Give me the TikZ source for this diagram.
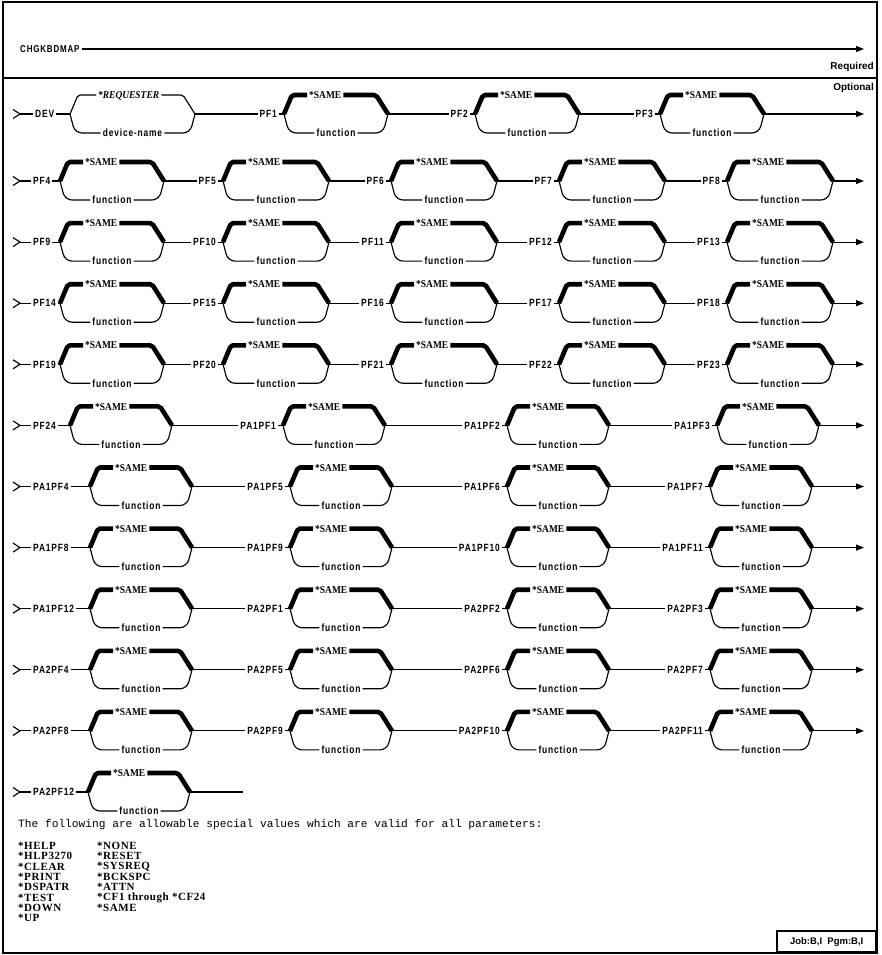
\documentclass[tikz,border=0pt]{standalone}
\usepackage{fontspec}
\setmainfont{Liberation Serif}
\newfontfamily\labfont[LetterSpace=8, FakeStretch=0.8]{Liberation Sans}
\newfontfamily\dftfont[FakeStretch=0.9]{Liberation Serif}
\newfontfamily\headfont{Liberation Sans}
\newfontfamily\monofnt{Liberation Mono}
\newfontfamily\listfont[LetterSpace=5]{Liberation Serif}
\usetikzlibrary{arrows.meta}
\tikzset{
  ln/.style={line width=1.15pt},
  heavy/.style={line width=4.6pt, line join=round},
  arr/.style={ln, -{Triangle[length=8pt,width=6pt]}},
  framestyle/.style={line width=1.6pt},
  lab/.style={font=\labfont\bfseries\fontsize{10.5}{12}\selectfont, inner sep=2pt, text height=7.5pt, text depth=0pt},
  dft/.style={font=\dftfont\bfseries\fontsize{10.5}{12}\selectfont, inner sep=2pt, text height=7.2pt, text depth=0pt},
  txt/.style={font=\listfont\bfseries\fontsize{11}{11}\selectfont, inner sep=0pt, anchor=west},
  pics/br/.style n args={5}{code={
    \coordinate (-in) at (0,0);
    \coordinate (-out) at (#1,0);
    \coordinate (-tl) at (8,-19);
    \coordinate (-tr) at ({#1-12},-19);
    \coordinate (-bl) at (5,19);
    \coordinate (-br) at ({#1-5},19);
    \node[dft, anchor=west] (-top) at (#5,-19) {#2};
    \node[lab] (-bot) at ({#1/2},19) {#3};
    \draw[#4, rounded corners=2pt] (-in) -- (-tl) -- (-top.west);
    \draw[#4, rounded corners=2pt] (-top.east) -- (-tr) -- (-out);
    \draw[ln, rounded corners=7pt] (-in) -- (-bl) -- (-bot.west);
    \draw[ln, rounded corners=7pt] (-bot.east) -- (-br) -- (-out);
  }},
}
\newcommand\rowmark[2]{\coordinate (#1) at (20,#2); \draw[ln] ([shift={(-7,-4.5)}]#1) -- (#1) -- ([shift={(-7,4.5)}]#1);}
\newcommand\samebr[4]{\pic (#1) at (#2,#3) {br={#4}{*SAME}{function}{heavy}{23}};}
\newcommand\lbl[4]{\node[lab,anchor=east] (#1) at (#2,#3) {#4};}
\newcommand\lblw[4]{\node[lab,anchor=west] (#1) at (#2,#3) {#4};}
\newcommand\lk[2]{\draw[ln] (#1) -- (#2);}
\begin{document}
\begin{tikzpicture}[x=1pt,y=-1pt]
\useasboundingbox (0,0) rectangle (881,955);
\fill[white] (0,0) rectangle (881,955);
% frame
\draw[framestyle] (3,2) rectangle (877,953);
\draw[framestyle] (3,78) -- (877,78);
% command line
\node[font=\labfont\bfseries\fontsize{10}{12}\selectfont, inner sep=2pt, anchor=west] (cmd) at (18,49) {CHGKBDMAP};
\coordinate (cmdend) at (864,49);
\draw[arr] (cmd) -- (cmdend);
\node[font=\headfont\bfseries\fontsize{10}{12}\selectfont, anchor=east, inner sep=0pt] (req) at (874,67) {Required};
\node[font=\headfont\bfseries\fontsize{10}{12}\selectfont, anchor=east, inner sep=0pt] (opt) at (874,88) {Optional};
% row 1
\rowmark{m1}{114}
\lblw{DEV}{33}{114}{DEV}
\pic (bdev) at (70,114) {br={125}{\itshape *REQUESTER}{device-name}{ln}{26}};
\lbl{PF1}{279}{114}{PF1}
\samebr{b1}{284}{114}{104}
\lbl{PF2}{470}{114}{PF2}
\samebr{b2}{475}{114}{104}
\lbl{PF3}{655}{114}{PF3}
\samebr{b3}{660}{114}{104}
\coordinate (e1) at (864,114);
\lk{m1}{DEV}\lk{DEV}{bdev-in}\lk{bdev-out}{PF1}\lk{PF1}{b1-in}\lk{b1-out}{PF2}\lk{PF2}{b2-in}\lk{b2-out}{PF3}\lk{PF3}{b3-in}
\draw[arr] (b3-out) -- (e1);
% row 2
\rowmark{m2}{181}
\lblw{PF4}{31}{181}{PF4}
\samebr{b4}{60}{181}{104}
\lbl{PF5}{218}{181}{PF5}
\samebr{b5}{223}{181}{106}
\lbl{PF6}{386}{181}{PF6}
\samebr{b6}{391}{181}{106}
\lbl{PF7}{554}{181}{PF7}
\samebr{b7}{559}{181}{106}
\lbl{PF8}{722}{181}{PF8}
\samebr{b8}{727}{181}{106}
\coordinate (e2) at (864,181);
\lk{m2}{PF4}\lk{PF4}{b4-in}\lk{b4-out}{PF5}\lk{PF5}{b5-in}\lk{b5-out}{PF6}\lk{PF6}{b6-in}\lk{b6-out}{PF7}\lk{PF7}{b7-in}\lk{b7-out}{PF8}\lk{PF8}{b8-in}
\draw[arr] (b8-out) -- (e2);
% row 3
\rowmark{m3}{242.1}
\lblw{PF9}{31}{242.1}{PF9}
\samebr{b9}{60}{242.1}{104}
\lbl{PF10}{218}{242.1}{PF10}
\samebr{b10}{223}{242.1}{106}
\lbl{PF11}{386}{242.1}{PF11}
\samebr{b11}{391}{242.1}{106}
\lbl{PF12}{554}{242.1}{PF12}
\samebr{b12}{559}{242.1}{106}
\lbl{PF13}{722}{242.1}{PF13}
\samebr{b13}{727}{242.1}{106}
\coordinate (e3) at (864,242.1);
\lk{m3}{PF9}\lk{PF9}{b9-in}\lk{b9-out}{PF10}\lk{PF10}{b10-in}\lk{b10-out}{PF11}\lk{PF11}{b11-in}\lk{b11-out}{PF12}\lk{PF12}{b12-in}\lk{b12-out}{PF13}\lk{PF13}{b13-in}
\draw[arr] (b13-out) -- (e3);
% row 4
\rowmark{m4}{303.2}
\lblw{PF14}{31}{303.2}{PF14}
\samebr{b14}{60}{303.2}{104}
\lbl{PF15}{218}{303.2}{PF15}
\samebr{b15}{223}{303.2}{106}
\lbl{PF16}{386}{303.2}{PF16}
\samebr{b16}{391}{303.2}{106}
\lbl{PF17}{554}{303.2}{PF17}
\samebr{b17}{559}{303.2}{106}
\lbl{PF18}{722}{303.2}{PF18}
\samebr{b18}{727}{303.2}{106}
\coordinate (e4) at (864,303.2);
\lk{m4}{PF14}\lk{PF14}{b14-in}\lk{b14-out}{PF15}\lk{PF15}{b15-in}\lk{b15-out}{PF16}\lk{PF16}{b16-in}\lk{b16-out}{PF17}\lk{PF17}{b17-in}\lk{b17-out}{PF18}\lk{PF18}{b18-in}
\draw[arr] (b18-out) -- (e4);
% row 5
\rowmark{m5}{364.3}
\lblw{PF19}{31}{364.3}{PF19}
\samebr{b19}{60}{364.3}{104}
\lbl{PF20}{218}{364.3}{PF20}
\samebr{b20}{223}{364.3}{106}
\lbl{PF21}{386}{364.3}{PF21}
\samebr{b21}{391}{364.3}{106}
\lbl{PF22}{554}{364.3}{PF22}
\samebr{b22}{559}{364.3}{106}
\lbl{PF23}{722}{364.3}{PF23}
\samebr{b23}{727}{364.3}{106}
\coordinate (e5) at (864,364.3);
\lk{m5}{PF19}\lk{PF19}{b19-in}\lk{b19-out}{PF20}\lk{PF20}{b20-in}\lk{b20-out}{PF21}\lk{PF21}{b21-in}\lk{b21-out}{PF22}\lk{PF22}{b22-in}\lk{b22-out}{PF23}\lk{PF23}{b23-in}
\draw[arr] (b23-out) -- (e5);
% row 6
\rowmark{m6}{425.4}
\lblw{PF24}{31}{425.4}{PF24}
\samebr{b24}{70}{425.4}{102}
\lbl{PA1PF1}{278}{425.4}{PA1PF1}
\samebr{ba1}{283}{425.4}{102}
\lbl{PA1PF2}{502}{425.4}{PA1PF2}
\samebr{ba2}{507}{425.4}{102}
\lbl{PA1PF3}{712}{425.4}{PA1PF3}
\samebr{ba3}{717}{425.4}{102}
\coordinate (e6) at (864,425.4);
\lk{m6}{PF24}\lk{PF24}{b24-in}\lk{b24-out}{PA1PF1}\lk{PA1PF1}{ba1-in}\lk{ba1-out}{PA1PF2}\lk{PA1PF2}{ba2-in}\lk{ba2-out}{PA1PF3}\lk{PA1PF3}{ba3-in}
\draw[arr] (ba3-out) -- (e6);
% row 7
\rowmark{m7}{486.5}
\lblw{PA1PF4}{31}{486.5}{PA1PF4}
\samebr{ba4}{90}{486.5}{102}
\lbl{PA1PF5}{285}{486.5}{PA1PF5}
\samebr{ba5}{290}{486.5}{102}
\lbl{PA1PF6}{502}{486.5}{PA1PF6}
\samebr{ba6}{507}{486.5}{102}
\lbl{PA1PF7}{705}{486.5}{PA1PF7}
\samebr{ba7}{710}{486.5}{102}
\coordinate (e7) at (864,486.5);
\lk{m7}{PA1PF4}\lk{PA1PF4}{ba4-in}\lk{ba4-out}{PA1PF5}\lk{PA1PF5}{ba5-in}\lk{ba5-out}{PA1PF6}\lk{PA1PF6}{ba6-in}\lk{ba6-out}{PA1PF7}\lk{PA1PF7}{ba7-in}
\draw[arr] (ba7-out) -- (e7);
% row 8
\rowmark{m8}{547.6}
\lblw{PA1PF8}{31}{547.6}{PA1PF8}
\samebr{ba8}{90}{547.6}{102}
\lbl{PA1PF9}{285}{547.6}{PA1PF9}
\samebr{ba9}{290}{547.6}{102}
\lbl{PA1PF10}{502}{547.6}{PA1PF10}
\samebr{ba10}{507}{547.6}{102}
\lbl{PA1PF11}{705}{547.6}{PA1PF11}
\samebr{ba11}{710}{547.6}{102}
\coordinate (e8) at (864,547.6);
\lk{m8}{PA1PF8}\lk{PA1PF8}{ba8-in}\lk{ba8-out}{PA1PF9}\lk{PA1PF9}{ba9-in}\lk{ba9-out}{PA1PF10}\lk{PA1PF10}{ba10-in}\lk{ba10-out}{PA1PF11}\lk{PA1PF11}{ba11-in}
\draw[arr] (ba11-out) -- (e8);
% row 9
\rowmark{m9}{608.7}
\lblw{PA1PF12}{31}{608.7}{PA1PF12}
\samebr{ba12}{90}{608.7}{102}
\lbl{PA2PF1}{285}{608.7}{PA2PF1}
\samebr{bb1}{290}{608.7}{102}
\lbl{PA2PF2}{502}{608.7}{PA2PF2}
\samebr{bb2}{507}{608.7}{102}
\lbl{PA2PF3}{705}{608.7}{PA2PF3}
\samebr{bb3}{710}{608.7}{102}
\coordinate (e9) at (864,608.7);
\lk{m9}{PA1PF12}\lk{PA1PF12}{ba12-in}\lk{ba12-out}{PA2PF1}\lk{PA2PF1}{bb1-in}\lk{bb1-out}{PA2PF2}\lk{PA2PF2}{bb2-in}\lk{bb2-out}{PA2PF3}\lk{PA2PF3}{bb3-in}
\draw[arr] (bb3-out) -- (e9);
% row 10
\rowmark{m10}{669.8}
\lblw{PA2PF4}{31}{669.8}{PA2PF4}
\samebr{bb4}{90}{669.8}{102}
\lbl{PA2PF5}{285}{669.8}{PA2PF5}
\samebr{bb5}{290}{669.8}{102}
\lbl{PA2PF6}{502}{669.8}{PA2PF6}
\samebr{bb6}{507}{669.8}{102}
\lbl{PA2PF7}{705}{669.8}{PA2PF7}
\samebr{bb7}{710}{669.8}{102}
\coordinate (e10) at (864,669.8);
\lk{m10}{PA2PF4}\lk{PA2PF4}{bb4-in}\lk{bb4-out}{PA2PF5}\lk{PA2PF5}{bb5-in}\lk{bb5-out}{PA2PF6}\lk{PA2PF6}{bb6-in}\lk{bb6-out}{PA2PF7}\lk{PA2PF7}{bb7-in}
\draw[arr] (bb7-out) -- (e10);
% row 11
\rowmark{m11}{730.9}
\lblw{PA2PF8}{31}{730.9}{PA2PF8}
\samebr{bb8}{90}{730.9}{102}
\lbl{PA2PF9}{285}{730.9}{PA2PF9}
\samebr{bb9}{290}{730.9}{102}
\lbl{PA2PF10}{502}{730.9}{PA2PF10}
\samebr{bb10}{507}{730.9}{102}
\lbl{PA2PF11}{705}{730.9}{PA2PF11}
\samebr{bb11}{710}{730.9}{102}
\coordinate (e11) at (864,730.9);
\lk{m11}{PA2PF8}\lk{PA2PF8}{bb8-in}\lk{bb8-out}{PA2PF9}\lk{PA2PF9}{bb9-in}\lk{bb9-out}{PA2PF10}\lk{PA2PF10}{bb10-in}\lk{bb10-out}{PA2PF11}\lk{PA2PF11}{bb11-in}
\draw[arr] (bb11-out) -- (e11);
% row 12
\rowmark{m12}{792}
\lblw{PA2PF12}{31}{792}{PA2PF12}
\samebr{bb12}{88}{792}{102}
\coordinate (e12) at (243,792);
\lk{m12}{PA2PF12}\lk{PA2PF12}{bb12-in}\lk{bb12-out}{e12}
% notes
\node[font=\monofnt\fontsize{11.2}{12}\selectfont, inner sep=0pt, anchor=west] (note) at (18,825) {The following are allowable special values which are valid for all parameters:};
\node[txt] (h1) at (18,846) {*HELP};
\node[txt] (h2) at (18,856.3) {*HLP3270};
\node[txt] (h3) at (18,866.6) {*CLEAR};
\node[txt] (h4) at (18,876.9) {*PRINT};
\node[txt] (h5) at (18,887.2) {*DSPATR};
\node[txt] (h6) at (18,897.5) {*TEST};
\node[txt] (h7) at (18,907.8) {*DOWN};
\node[txt] (h8) at (18,918.1) {*UP};
\node[txt] (n1) at (97,846) {*NONE};
\node[txt] (n2) at (97,856.3) {*RESET};
\node[txt] (n3) at (97,866.6) {*SYSREQ};
\node[txt] (n4) at (97,876.9) {*BCKSPC};
\node[txt] (n5) at (97,887.2) {*ATTN};
\node[txt] (n6) at (97,897.5) {*CF1 through *CF24};
\node[txt] (n7) at (97,907.8) {*SAME};
% job box
\node[draw, framestyle, font=\headfont\bfseries\fontsize{9.5}{11}\selectfont, anchor=south east, minimum height=21pt, minimum width=99pt, inner sep=2pt] (job) at (877,953) {Job:B,I\ \ Pgm:B,I};
\end{tikzpicture}
\end{document}
